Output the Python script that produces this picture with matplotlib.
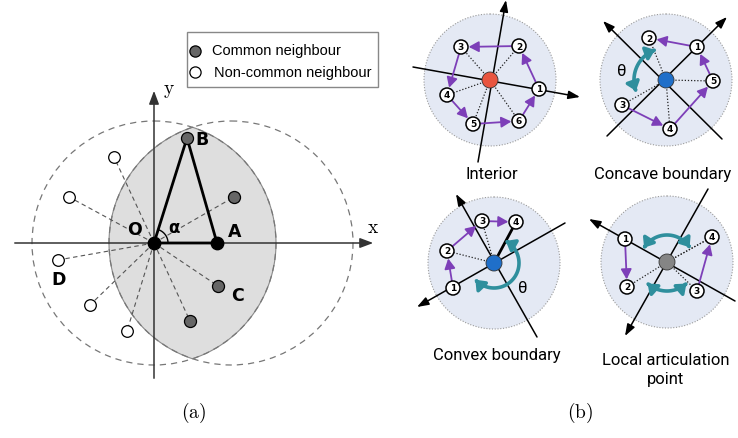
import numpy as np
import matplotlib.pyplot as plt
from matplotlib.patches import Circle, Rectangle, Polygon, FancyArrowPatch
from matplotlib.path import Path

plt.rcParams['mathtext.fontset'] = 'cm'

# ---- panel (a), everything in figure pixels (y grows downward)
origin = (154, 244)
point_a = (217, 244)
point_b = (187, 139)
common_x = [187, 234, 218, 190]
common_y = [139, 198, 287, 322]
open_x = [114, 69, 58, 90, 127]
open_y = [158, 198, 261, 306, 332]
circle_centres = [154, 231]
circle_radius = 122
point_labels = ["O", "A", "B", "C", "D"]
label_x = [135, 235, 202, 237, 59]
label_y = [230, 232, 140, 296, 280]
legend_labels = ["Common neighbour", "Non-common neighbour"]

# ---- panel (b)
panel_titles = ["Interior", "Concave boundary", "Convex boundary", "Local articulation\npoint"]
title_x = [492, 663, 497, 666]
title_y = [175, 175, 356, 370]
centres_x = [490, 666, 494, 667]
centres_y = [81, 81, 264, 263]
centre_colours = ["#e8553f", "#1f6fc9", "#1f6fc9", "#858585"]
nodes_x = [[539, 519, 461, 447, 473, 519], [697, 649, 622, 670, 713],
           [453, 447, 482, 516], [625, 627, 697, 712]]
nodes_y = [[90, 47, 48, 96, 125, 122], [48, 39, 106, 130, 82],
           [289, 252, 222, 223], [240, 288, 292, 238]]
walks = [[(1, 2), (2, 3), (3, 4), (4, 5), (5, 6), (6, 1)],
         [(1, 2), (5, 1), (4, 5), (3, 4)],
         [(1, 2), (2, 3), (3, 4)],
         [(1, 2), (3, 4)]]
dotted_nodes = [[2, 3, 4, 5, 6], [2, 3, 4, 5], [2, 3], [2, 3, 4]]
axis_lines = [[((413, 68), (580, 98)), ((478, 163), (506, 1))],
              [((607, 137), (727, 18)), ((722, 140), (603, 22))],
              [((565, 224), (417, 308)), ((537, 338), (456, 195))],
              [((735, 302), (589, 220)), ((708, 190), (625, 337))]]
# teal arcs: (panel, radius, start angle, end angle), angles on screen in degrees
turn_arcs = [(1, 32, 110, 200), (2, 25, 62, -138), (3, 27, 148, 33), (3, 29, -132, -48)]
theta_x = [622, 523]
theta_y = [72, 289]

purple = "#7d3fb8"
teal = "#2f8f9d"

fig = plt.figure(figsize=(7.38, 4.39), dpi=100)
ax = fig.add_axes([0, 0, 1, 1])
ax.set_xlim(0, 738)
ax.set_ylim(439, 0)
ax.axis("off")

# lens (intersection of the two dashed circles)
d = (circle_centres[1] - circle_centres[0]) / 2
phi = np.arccos(d / circle_radius)
t1 = np.linspace(-phi, phi, 200)
t2 = np.linspace(np.pi - phi, np.pi + phi, 200)
lens = np.vstack([
    np.column_stack([circle_centres[0] + circle_radius * np.cos(t1), origin[1] + circle_radius * np.sin(t1)]),
    np.column_stack([circle_centres[1] + circle_radius * np.cos(t2), origin[1] + circle_radius * np.sin(t2)]),
])
ax.add_patch(Polygon(lens, closed=True, fc="#dedede", ec="#8a8a8a", lw=0.8, zorder=1))
for cx in circle_centres:
    ax.add_patch(Circle((cx, origin[1]), circle_radius, fill=False, ec="#777777",
                        lw=0.9, ls=(0, (5, 4)), zorder=2))

# coordinate axes
ax.annotate("", xy=(376, 244), xytext=(12, 244),
            arrowprops=dict(arrowstyle="-|>,head_length=0.8,head_width=0.3", color="#333333", lw=1.1))
ax.annotate("", xy=(154, 89), xytext=(154, 382),
            arrowprops=dict(arrowstyle="-|>,head_length=0.8,head_width=0.3", color="#333333", lw=1.1))
ax.text(373, 228, "$\\mathrm{x}$", fontsize=14, ha="center", va="center")
ax.text(169, 90, "$\\mathrm{y}$", fontsize=14, ha="center", va="center")

# dashed spokes from O
for x, y in zip(common_x[1:] + open_x, common_y[1:] + open_y):
    ax.plot([origin[0], x], [origin[1], y], color="#555555", lw=0.8, ls=(0, (4, 3)), zorder=3)

# triangle O-B-A
ax.plot([origin[0], point_b[0], point_a[0], origin[0]],
        [origin[1], point_b[1], point_a[1], origin[1]], color="black", lw=2, zorder=4)

# angle alpha
ang = np.radians(np.linspace(0, 72, 40))
ax.plot(origin[0] + 14 * np.cos(ang), origin[1] - 14 * np.sin(ang), color="black", lw=1, zorder=4)
ax.text(174, 228, "α", fontsize=12, fontweight="bold", ha="center", va="center")

ax.scatter(common_x, common_y, s=75, c="#666666", edgecolors="black", linewidths=0.9, zorder=5)
ax.scatter(open_x, open_y, s=70, c="white", edgecolors="black", linewidths=0.9, zorder=5)
ax.scatter([origin[0], point_a[0]], [origin[1], point_a[1]], s=80, c="black", zorder=6)

for lab, x, y in zip(point_labels, label_x, label_y):
    ax.text(x, y, lab, fontsize=12.5, fontweight="bold", ha="center", va="center", zorder=7)

# legend box
ax.add_patch(Rectangle((187, 33), 191, 55, fc="white", ec="#888888", lw=1, zorder=5))
ax.scatter([195], [51.5], s=65, c="#666666", edgecolors="black", linewidths=0.9, zorder=6)
ax.scatter([195], [72.5], s=65, c="white", edgecolors="black", linewidths=0.9, zorder=6)
ax.text(212, 51.5, legend_labels[0], fontsize=10.5, family="Liberation Sans", va="center", zorder=6)
ax.text(214, 72.5, legend_labels[1], fontsize=10.5, family="Liberation Sans", va="center", zorder=6)

# ---- panel (b)
for i in range(4):
    cx, cy = centres_x[i], centres_y[i]
    ax.add_patch(Circle((cx, cy), 66, fc="#e4e9f4", ec="#9a9a9a", lw=0.8, ls=(0, (1, 1.5)), zorder=1))
    for tail, head in axis_lines[i]:
        ax.annotate("", xy=head, xytext=tail,
                    arrowprops=dict(arrowstyle="-|>,head_length=0.7,head_width=0.25",
                                    color="black", lw=1.1, shrinkA=0, shrinkB=0), zorder=2)
    for n in dotted_nodes[i]:
        ax.plot([cx, nodes_x[i][n - 1]], [cy, nodes_y[i][n - 1]], color="#222222",
                lw=0.9, ls=(0, (1, 1.5)), zorder=2)
    if i == 2:
        ax.plot([cx, nodes_x[i][3]], [cy, nodes_y[i][3]], color="black", lw=2, zorder=2)
    if i == 3:
        ax.plot([cx, nodes_x[i][3]], [cy, nodes_y[i][3]], color="#222222", lw=0.9,
                ls=(0, (1, 1.5)), zorder=2)
    for a, b in walks[i]:
        arr = FancyArrowPatch((nodes_x[i][a - 1], nodes_y[i][a - 1]), (nodes_x[i][b - 1], nodes_y[i][b - 1]),
                              arrowstyle="-|>,head_length=6,head_width=3.2", color=purple,
                              lw=1.3, shrinkA=5.5, shrinkB=5.5, zorder=3)
        ax.add_patch(arr)
    ax.add_patch(Circle((cx, cy), 8, fc=centre_colours[i], ec="#333333", lw=0.6, zorder=4))
    for k, (x, y) in enumerate(zip(nodes_x[i], nodes_y[i])):
        ax.add_patch(Circle((x, y), 7, fc="white", ec="black", lw=1.1, zorder=4))
        ax.text(x, y, str(k + 1), fontsize=6.5, fontweight="bold", ha="center", va="center", zorder=5)
    ax.text(title_x[i], title_y[i], panel_titles[i], fontsize=12, family="Roboto",
            ha="center", va="center", linespacing=1.3)

for p, r, a0, a1 in turn_arcs:
    cx, cy = centres_x[p], centres_y[p]
    ang = np.radians(np.linspace(a0, a1, 60))
    pts = np.column_stack([cx + r * np.cos(ang), cy - r * np.sin(ang)])
    ax.add_patch(FancyArrowPatch(path=Path(pts), arrowstyle="<|-|>,head_length=5,head_width=4",
                                 color=teal, lw=2.6, zorder=6))

for x, y in zip(theta_x, theta_y):
    ax.text(x, y, "θ", fontsize=12, family="Roboto", ha="center", va="center")

ax.text(194, 413, "$\\mathrm{(a)}$", fontsize=14, ha="center", va="center")
ax.text(580, 413, "$\\mathrm{(b)}$", fontsize=14, ha="center", va="center")

fig.savefig("out.png", dpi=100)
